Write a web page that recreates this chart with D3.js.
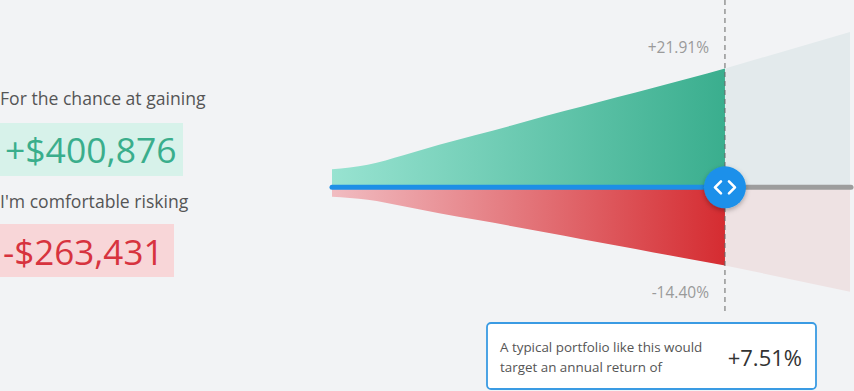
<!DOCTYPE html>
<html>
<head>
<meta charset="utf-8">
<script src="https://cdn.jsdelivr.net/npm/d3@7"></script>
<style>
body { margin: 0; background: #f2f3f5; font-family: "Open Sans", sans-serif; }
svg { display: block; }
</style>
</head>
<body>
<svg id="chart" width="854" height="391"></svg>
<script>
/// Data ///
// cone, in thousands of dollars, by year
const years = [0, 2, 4, 6, 8, 10, 12, 14, 16, 18, 20, 22];
const upside = [60.7, 76, 108.5, 143.3, 175.4, 207.4, 241.1, 272.5, 304.2, 335.9, 368, 400.876];
const downside = [-31.7, -42.2, -64.1, -87.7, -108.6, -130.2, -152.8, -175, -197.3, -219.6, -241.5, -263.431];
// faded part after the selected year
const futureYears = [22, 29];
const futureUp = [400.876, 524];
const futureDown = [-263.431, -352];
const selectedYear = 22;
const returnLabels = ["+21.91%", "-14.40%"];
const targetReturn = "+7.51%";
const gainText = ["For the chance at gaining", "+$400,876"];
const riskText = ["I'm comfortable risking", "-$263,431"];
const noteLines = ["A typical portfolio like this would", "target an annual return of"];

/// Drawing ///
const svg = d3.select("#chart");

const x = d3.scaleLinear().domain([0, 29]).range([332, 850]);
const y = d3.scaleLinear().domain([-400, 400]).range([305.9, 68.7]);

const defs = svg.append("defs");

function hGrad(id, from, to) {
    const g = defs.append("linearGradient").attr("id", id)
        .attr("x1", "0%").attr("x2", "100%").attr("y1", "0%").attr("y2", "0%");
    g.append("stop").attr("offset", "0%").attr("stop-color", from);
    g.append("stop").attr("offset", "100%").attr("stop-color", to);
}
hGrad("gainGrad", "#98e3d1", "#3aae8e");
hGrad("lossGrad", "#f1bcc1", "#d52c31");

const shadow = defs.append("filter").attr("id", "shadow")
    .attr("x", "-50%").attr("y", "-50%").attr("width", "200%").attr("height", "200%");
shadow.append("feDropShadow").attr("dx", 0).attr("dy", 2).attr("stdDeviation", 2.5)
    .attr("flood-color", "#000").attr("flood-opacity", 0.3);

const cone = years.map((t, i) => ({ t: t, up: upside[i], down: downside[i] }));
const future = futureYears.map((t, i) => ({ t: t, up: futureUp[i], down: futureDown[i] }));

const areaUp = d3.area().x(d => x(d.t)).y0(y(0)).y1(d => y(d.up)).curve(d3.curveMonotoneX);
const areaDown = d3.area().x(d => x(d.t)).y0(y(0)).y1(d => y(d.down)).curve(d3.curveMonotoneX);

// faded future
svg.append("path").datum(future).attr("d", areaUp).attr("fill", "#e3eaec");
svg.append("path").datum(future).attr("d", areaDown).attr("fill", "#eee2e3");

// main cone
svg.append("path").datum(cone).attr("d", areaUp).attr("fill", "url(#gainGrad)");
svg.append("path").datum(cone).attr("d", areaDown).attr("fill", "url(#lossGrad)");

// dashed marker
svg.append("line")
    .attr("x1", x(selectedYear)).attr("x2", x(selectedYear))
    .attr("y1", 0).attr("y2", 315)
    .attr("stroke", "#666").attr("stroke-width", 1).attr("stroke-dasharray", "5,4");

// base lines
svg.append("line")
    .attr("x1", x(selectedYear)).attr("x2", 851)
    .attr("y1", y(0)).attr("y2", y(0))
    .attr("stroke", "#9d9d9d").attr("stroke-width", 5).attr("stroke-linecap", "round");
svg.append("line")
    .attr("x1", x(0)).attr("x2", x(selectedYear))
    .attr("y1", y(0)).attr("y2", y(0))
    .attr("stroke", "#1d8fe6").attr("stroke-width", 5).attr("stroke-linecap", "round");

// handle
const hx = x(selectedYear), hy = y(0);
svg.append("circle").attr("cx", hx).attr("cy", hy).attr("r", 21)
    .attr("fill", "#1a90ea").attr("filter", "url(#shadow)");
svg.append("path")
    .attr("d", `M${hx - 4},${hy - 6} L${hx - 10},${hy} L${hx - 4},${hy + 6} M${hx + 4},${hy - 6} L${hx + 10},${hy} L${hx + 4},${hy + 6}`)
    .attr("fill", "none").attr("stroke", "#fff").attr("stroke-width", 2.6)
    .attr("stroke-linecap", "round").attr("stroke-linejoin", "round");

// return labels
svg.append("text").attr("x", hx - 16).attr("y", 53)
    .attr("text-anchor", "end").attr("font-size", 15.5).attr("fill", "#9a9a9a")
    .text(returnLabels[0]);
svg.append("text").attr("x", hx - 16).attr("y", 298)
    .attr("text-anchor", "end").attr("font-size", 15.5).attr("fill", "#9a9a9a")
    .text(returnLabels[1]);

// left side text
svg.append("text").attr("x", 0).attr("y", 105)
    .attr("font-size", 17.6).attr("fill", "#555").text(gainText[0]);
svg.append("rect").attr("x", 0).attr("y", 123).attr("width", 183).attr("height", 53)
    .attr("fill", "#d7f2ea");
svg.append("text").attr("x", 5).attr("y", 163)
    .attr("font-size", 35.5).attr("fill", "#3aae8c").text(gainText[1]);

svg.append("text").attr("x", 0).attr("y", 208)
    .attr("font-size", 17.6).attr("fill", "#555").text(riskText[0]);
svg.append("rect").attr("x", 0).attr("y", 224).attr("width", 174).attr("height", 53)
    .attr("fill", "#f8d6d8");
svg.append("text").attr("x", 3).attr("y", 265)
    .attr("font-size", 35).attr("fill", "#d7333e").text(riskText[1]);

// note box
svg.append("rect").attr("x", 487).attr("y", 323).attr("width", 329).attr("height", 66)
    .attr("rx", 4).attr("fill", "#fff").attr("stroke", "#3a9be3").attr("stroke-width", 1.8);
noteLines.forEach(function(line, i) {
    svg.append("text").attr("x", 500).attr("y", 352 + i * 20)
        .attr("font-size", 13.4).attr("fill", "#555").text(line);
});
svg.append("text").attr("x", 802).attr("y", 366)
    .attr("text-anchor", "end").attr("font-size", 22).attr("fill", "#333")
    .text(targetReturn);
</script>
</body>
</html>
